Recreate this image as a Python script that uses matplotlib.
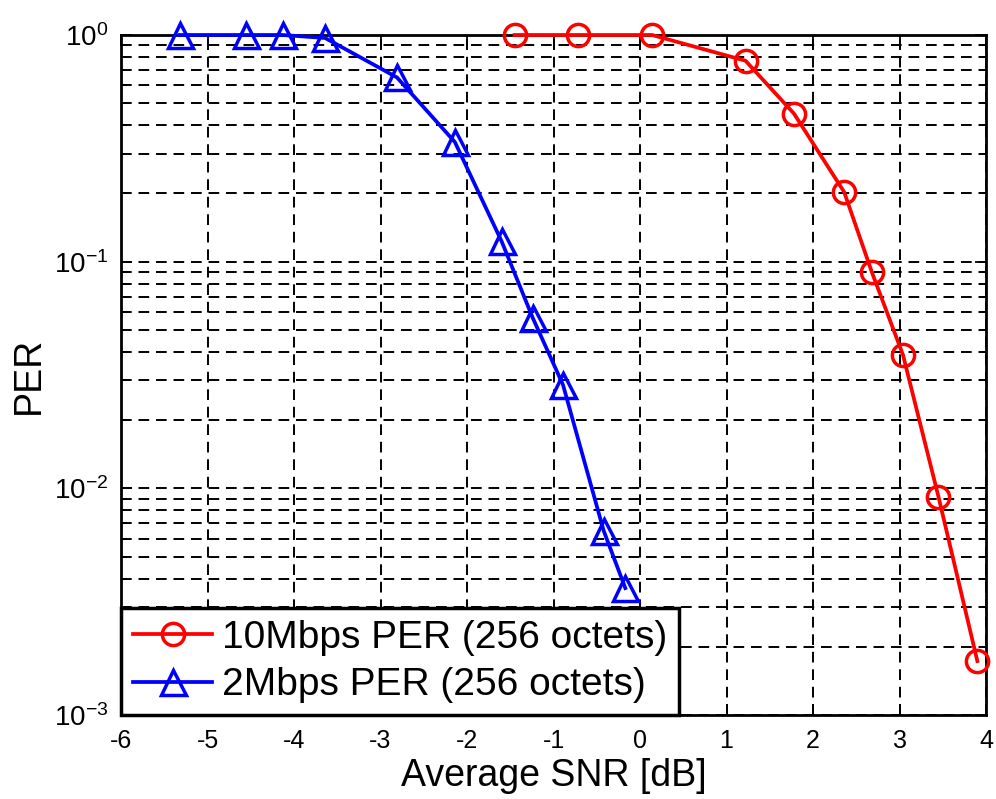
import matplotlib
matplotlib.use("Agg")
import matplotlib.pyplot as plt
from matplotlib.ticker import LogLocator, NullFormatter, MultipleLocator

plt.rcParams['font.family'] = ['Liberation Sans', 'DejaVu Sans']
plt.rcParams['mathtext.fontset'] = 'custom'
plt.rcParams['mathtext.rm'] = 'Liberation Sans'
plt.rcParams['axes.unicode_minus'] = False

# data
snr_10m = [-1.45, -0.72, 0.14, 1.22, 1.78, 2.36, 2.68, 3.04, 3.45, 3.90]
per_10m = [1.0, 1.0, 1.0, 0.77, 0.45, 0.203, 0.090, 0.0388, 0.0092, 0.00173]
snr_2m = [-5.32, -4.555, -4.13, -3.64, -2.81, -2.14, -1.60, -1.24, -0.89, -0.42, -0.17]
per_2m = [1.0, 1.0, 1.0, 0.97, 0.65, 0.337, 0.123, 0.0565, 0.0286, 0.0065, 0.00363]

label_10m = "10Mbps PER (256 octets)"
label_2m = "2Mbps PER (256 octets)"

fig = plt.figure(figsize=(9.96, 7.99), dpi=100)
ax = fig.add_axes([121/996, 1 - 715/799, 865/996, 680/799])

ax.semilogy(snr_10m, per_10m, color='red', lw=2.7, marker='o', ms=16,
            mfc='none', mew=2.5, label=label_10m, clip_on=False, zorder=3)
ax.semilogy(snr_2m, per_2m, color='blue', lw=2.7, marker='^', ms=18,
            mfc='none', mew=2.5, label=label_2m, clip_on=False, zorder=3)

ax.set_xlim(-6, 4)
ax.set_ylim(1e-3, 1)
ax.xaxis.set_major_locator(MultipleLocator(1))
ax.yaxis.set_major_locator(LogLocator(base=10, numticks=10))
ax.yaxis.set_minor_locator(LogLocator(base=10, subs=range(2, 10), numticks=10))
ax.yaxis.set_minor_formatter(NullFormatter())

# matlab style dashed grid
dash = (0, (5.5, 3.5))
ax.grid(True, which='major', color='black', linestyle=dash, lw=1.4)
ax.grid(True, which='minor', axis='y', color='black', linestyle=dash, lw=1.4)

ax.tick_params(which='both', direction='in', top=True, right=True, width=1.3)
ax.tick_params(which='major', length=8)
ax.tick_params(which='minor', length=4)
ax.tick_params(axis='x', labelsize=18, pad=10)
ax.tick_params(axis='y', labelsize=20, pad=9)
for s in ax.spines.values():
    s.set_linewidth(2)

ax.set_xlabel("Average SNR [dB]", fontsize=27, labelpad=4)
ax.set_ylabel("PER", fontsize=27, labelpad=5)

leg = ax.legend(loc='lower left', bbox_to_anchor=(0, 0), borderaxespad=0,
                fontsize=28, fancybox=False, framealpha=1, edgecolor='black',
                handlelength=2.05, handletextpad=0.25, borderpad=0.3,
                labelspacing=0.3)
leg.get_frame().set_linewidth(2.5)

fig.savefig("out.png", dpi=100)
